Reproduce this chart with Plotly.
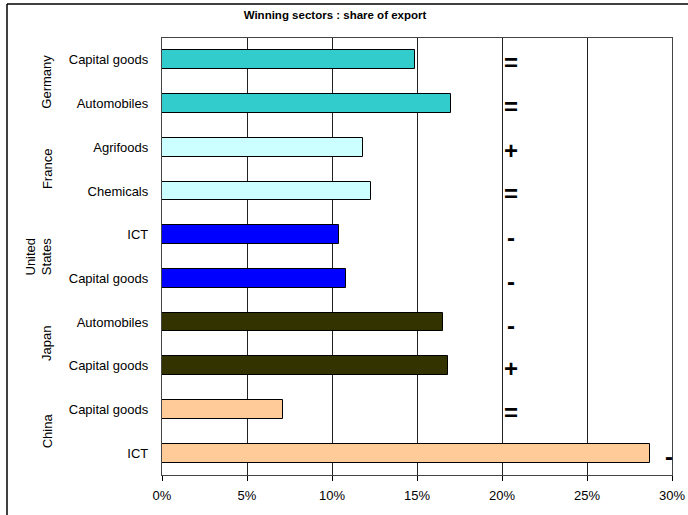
import plotly.graph_objects as go

# Export share of each country's winning sectors (bottom to top)
countries = ["China", "China", "Japan", "Japan", "United States", "United States",
             "France", "France", "Germany", "Germany"]
sectors = ["ICT", "Capital goods", "Capital goods", "Automobiles", "Capital goods", "ICT",
           "Chemicals", "Agrifoods", "Automobiles", "Capital goods"]
share_pct = [28.7, 7.1, 16.8, 16.5, 10.8, 10.4, 12.3, 11.8, 17.0, 14.9]
trend = ["-", "=", "+", "-", "-", "-", "=", "+", "=", "="]

country_labels = ["China", "Japan", "United<br>States", "France", "Germany"]
country_colors = {
    "Germany": "#33CCCC",
    "France": "#CCFFFF",
    "United States": "#0000FF",
    "Japan": "#333300",
    "China": "#FFCC99",
}

x_ticks = [0, 5, 10, 15, 20, 25, 30]
x_tick_text = ["0%", "5%", "10%", "15%", "20%", "25%", "30%"]

FONT = "Arial, Liberation Sans, sans-serif"
W, H = 688, 515
ML, MR, MT, MB = 162, 16, 38, 40
PW, PH = W - ML - MR, H - MT - MB


def px_to_paper_x(px):
    return (px - ML) / PW


def px_to_paper_y(py):
    return (H - MB - py) / PH


pos = list(range(len(sectors)))

fig = go.Figure()
fig.add_trace(go.Bar(
    x=share_pct,
    y=pos,
    orientation="h",
    width=0.43,
    marker=dict(color=[country_colors[c] for c in countries],
                line=dict(color="black", width=1)),
    hoverinfo="skip",
))

# Trend symbols beside the bars
TREND_X = 20.5
annotations = []
for p, v, s in zip(pos, share_pct, trend):
    annotations.append(dict(
        x=max(TREND_X, v + 1.1), y=p, xref="x", yref="y",
        text="<b>" + s + "</b>", showarrow=False, yshift=-3,
        font=dict(family=FONT, size=24, color="black"),
        xanchor="center", yanchor="middle",
    ))

# Country group labels, rotated, centred on their pair of bars
for i, label in enumerate(country_labels):
    annotations.append(dict(
        x=px_to_paper_x(38 if "<br>" in label else 47), y=2 * i + 0.5,
        xref="paper", yref="y",
        text=label, textangle=-90, showarrow=False,
        font=dict(family=FONT, size=13, color="black"),
        xanchor="center", yanchor="middle",
    ))

fig.update_layout(
    width=W, height=H,
    margin=dict(l=ML, r=MR, t=MT, b=MB, autoexpand=False),
    paper_bgcolor="white",
    plot_bgcolor="white",
    showlegend=False,
    bargap=0,
    title=dict(
        text="<b>Winning sectors : share of export</b>",
        x=335 / W, y=1 - 15 / H, xref="container", yref="container",
        xanchor="center", yanchor="middle",
        font=dict(family=FONT, size=11.5, color="black"),
    ),
    annotations=annotations,
    shapes=[
        # outer chart frame (left and top edges)
        dict(type="line", xref="paper", yref="paper",
             x0=px_to_paper_x(7), x1=px_to_paper_x(7),
             y0=px_to_paper_y(4), y1=px_to_paper_y(H + 5),
             line=dict(color="black", width=1.5)),
        dict(type="line", xref="paper", yref="paper",
             x0=px_to_paper_x(7), x1=px_to_paper_x(W + 5),
             y0=px_to_paper_y(4), y1=px_to_paper_y(4),
             line=dict(color="black", width=1.5)),
    ],
)

fig.update_xaxes(
    range=[0, 30], automargin=False,
    tickvals=x_ticks, ticktext=x_tick_text,
    showgrid=True, gridcolor="#222222", gridwidth=1.3,
    showline=True, linecolor="#444444", linewidth=1.3, mirror=True,
    ticks="outside", ticklen=5, tickcolor="black",
    ticklabelstandoff=3,
    tickfont=dict(family=FONT, size=13, color="black"),
    zeroline=False,
)
fig.update_yaxes(
    range=[-0.5, len(sectors) - 0.5], automargin=False,
    tickvals=pos, ticktext=sectors,
    showgrid=False,
    showline=True, linecolor="#444444", linewidth=1.3, mirror=True,
    ticks="", ticklabelstandoff=10,
    tickfont=dict(family=FONT, size=13, color="black"),
    zeroline=False,
)

fig.write_html("out.html")
